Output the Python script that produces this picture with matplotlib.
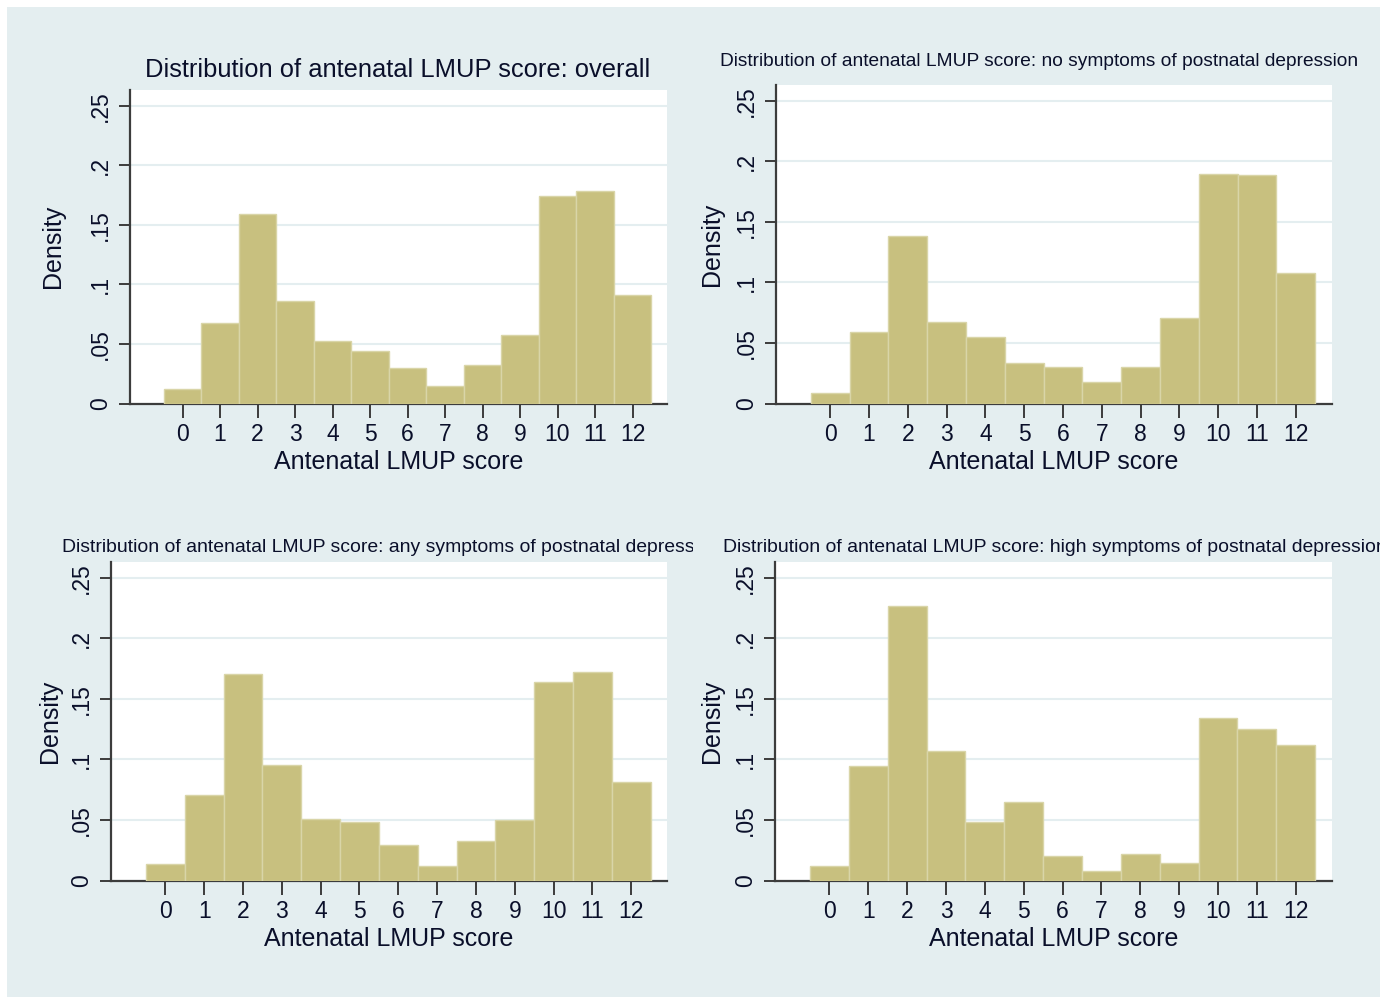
import matplotlib
matplotlib.use("Agg")
import matplotlib.pyplot as plt
from matplotlib.patches import Rectangle
import numpy as np

plt.rcParams['font.family'] = ['Liberation Sans', 'DejaVu Sans']

# ---- data ----
scores = list(range(13))
overall = [0.0118, 0.0673, 0.1595, 0.0863, 0.0524, 0.0437, 0.0300, 0.0143, 0.0320, 0.0577, 0.1738, 0.1780, 0.0910]
no_symptoms = [0.0085, 0.0590, 0.1385, 0.0670, 0.0550, 0.0336, 0.0300, 0.0180, 0.0300, 0.0710, 0.1897, 0.1886, 0.1077]
any_symptoms = [0.0135, 0.0710, 0.1704, 0.0953, 0.0510, 0.0480, 0.0297, 0.0116, 0.0325, 0.0500, 0.1638, 0.1724, 0.0810]
high_symptoms = [0.0120, 0.0950, 0.2270, 0.1070, 0.0480, 0.0650, 0.0200, 0.0080, 0.0218, 0.0146, 0.1346, 0.1253, 0.1118]
yticks = [0, 0.05, 0.10, 0.15, 0.20, 0.25]
ytick_labels = ["0", ".05", ".1", ".15", ".2", ".25"]
titles = ["Distribution of antenatal LMUP score: overall",
          "Distribution of antenatal LMUP score: no symptoms of postnatal depression",
          "Distribution of antenatal LMUP score: any symptoms of postnatal depression",
          "Distribution of antenatal LMUP score: high symptoms of postnatal depression"]
xlabel = "Antenatal LMUP score"
ylabel = "Density"

W, H = 1391, 999
BG = "#e4eef0"
BAR = "#c8c07f"
EDGE = "#d9d5a8"
AX = "#3c3c3c"
TXT = "#0a0f2a"

fig = plt.figure(figsize=(W / 100, H / 100), dpi=100)
fig.patch.set_facecolor("white")
# background panel with thin white frame
fig.add_artist(Rectangle((7 / W, 2 / H), (1380 - 7) / W, (997 - 5 - 2) / H,
                         transform=fig.transFigure, facecolor=BG, edgecolor="none", zorder=-10))

def fx(px):
    return px / W

def fy(py):
    return 1 - py / H

# axes boxes in pixels: left, right, top, bottom
boxes = [(130, 667, 90, 403.5), (776, 1331.5, 85, 403.5),
         (111, 667, 562, 880.5), (775, 1331.5, 562, 880.5)]
series = [overall, no_symptoms, any_symptoms, high_symptoms]
ylab_x = [53, 712, 50, 712]

axes = []
for (l, r, t, b), vals, yx in zip(boxes, series, ylab_x):
    ax = fig.add_axes([fx(l), fy(b), (r - l) / W, (b - t) / H])
    ax.set_facecolor("white")
    ax.bar(scores, vals, width=1.0, color=BAR, edgecolor=EDGE, linewidth=1.0, zorder=3)
    ax.set_xlim(-1.4, 12.92)
    ax.set_ylim(0, 0.2632)
    ax.set_yticks(yticks)
    ax.set_yticklabels(ytick_labels, rotation=90, va="center", fontsize=16.5, color=TXT)
    ax.set_xticks(scores)
    ax.set_xticklabels([str(s) for s in scores], fontsize=16.5, color=TXT)
    ax.grid(axis="y", color=BG, linewidth=1.5, zorder=0)
    ax.set_axisbelow(True)
    for s in ["top", "right"]:
        ax.spines[s].set_visible(False)
    for s in ["left", "bottom"]:
        ax.spines[s].set_color(AX)
        ax.spines[s].set_linewidth(1.6)
    ax.tick_params(axis="x", length=10, width=1.4, color=AX, pad=4)
    ax.tick_params(axis="y", length=8, width=1.4, color=AX, pad=5)
    ax.set_xlabel(xlabel, fontsize=18, labelpad=3, color=TXT)
    ax.set_ylabel(ylabel, fontsize=18, color=TXT, va="center")
    ax.yaxis.set_label_coords((yx - l) / (r - l), 0.5)
    axes.append(ax)

# titles
fig.canvas.draw()
renderer = fig.canvas.get_renderer()

def fit_text(x, y, s, target_w, ha):
    t = fig.text(fx(x), fy(y), s, ha=ha, va="center", fontsize=14, color=TXT)
    w = t.get_window_extent(renderer).width
    t.set_fontsize(14 * target_w / w)
    return t

t1 = fit_text(398, 70, titles[0], 508, "center")
t2 = fit_text(1039, 62, titles[1], 644, "center")
fs2 = t2.get_fontsize() * 1.008
t3 = fig.text(fx(62), fy(547), titles[2], ha="left", va="center", fontsize=fs2, color=TXT)
t4 = fig.text(fx(723), fy(547), titles[3], ha="left", va="center", fontsize=fs2, color=TXT)
for t, (cl, cr) in [(t3, (0, 693)), (t4, (700, 1380))]:
    rect = Rectangle((fx(cl), 0), (cr - cl) / W, 1, transform=fig.transFigure, visible=False)
    fig.add_artist(rect)
    t.set_clip_path(rect)

fig.savefig("out.png", dpi=100, facecolor=fig.get_facecolor())
